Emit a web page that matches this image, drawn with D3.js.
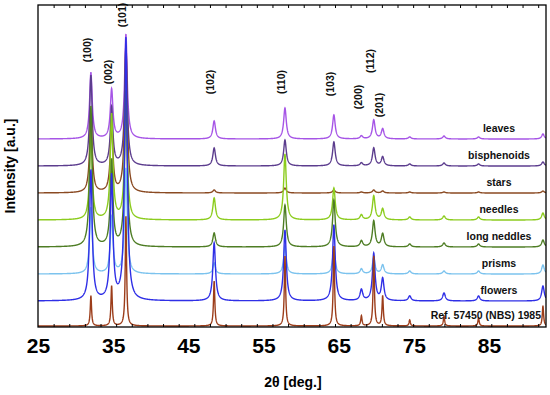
<!DOCTYPE html>
<meta charset="utf-8">
<script src="https://d3js.org/d3.v7.min.js"></script>
<style>
body { margin: 0; background: #fff; }
text { font-family: "Liberation Sans", Arial, sans-serif; font-weight: bold; }
</style>
<body>
<div id="chart"></div>
<script>

// peak positions (2theta, deg) and their Miller indices
const peakPos = [31.77, 34.42, 36.25, 47.54, 56.60, 62.86, 66.38, 67.96, 69.10, 72.56, 76.95, 81.37, 89.61];
const hkl = ["(100)", "(002)", "(101)", "(102)", "(110)", "(103)", "(200)", "(112)", "(201)"];

// samples, top to bottom
const samples = ["leaves", "bisphenoids", "stars", "needles", "long neddles", "prisms", "flowers", "Ref. 57450 (NBS) 1985"];
const offsets = [188, 161, 134, 107, 80, 53, 26, 1];
const colors = ["#a655e6", "#5c3d8e", "#8a4a22", "#8ccc1e", "#4e7d24", "#7cc3ee", "#2f2fe6", "#9c3d1a"];

// peak heights, same order as peakPos
const leaves      = [66, 49, 104, 18, 31, 24, 3, 19, 10, 2, 3, 2, 5];
const bisphenoids = [90, 58, 120, 18, 26, 24, 3, 18, 9, 2, 3, 2, 4];
const stars       = [78, 68, 145, 3, 5, 3, 1, 3, 2, 1, 1, 1, 2];
const needles     = [86, 105, 125, 22, 66, 32, 5, 24, 11, 3, 4, 3, 7];
const longNeddles = [140, 86, 155, 14, 42, 47, 6, 26, 13, 3, 4, 3, 7];
const prisms      = [66, 56, 105, 11, 28, 26, 5, 16, 9, 3, 3, 3, 9];
const flowers     = [130, 124, 262, 58, 71, 76, 11, 47, 22, 5, 8, 5, 15];
const reference   = [30, 40, 110, 45, 70, 80, 10, 70, 30, 6, 10, 8, 20];
const heights = [leaves, bisphenoids, stars, needles, longNeddles, prisms, flowers, reference];

const tickLabels = [25, 35, 45, 55, 65, 75, 85];

const W = 550, H = 395;
const plot = {left: 38, right: 546, top: 5, bottom: 327};

const svg = d3.select("#chart").append("svg")
    .attr("width", W)
    .attr("height", H);

const x = d3.scaleLinear().domain([25, 90]).range([plot.left, plot.right]);
const y = d3.scaleLinear().domain([0, 322]).range([plot.bottom, plot.top]);
// the original figure puts its axis numbers slightly tighter than the data
const xLab = d3.scaleLinear().domain([25, 85]).range([38, 489]);

svg.append("clipPath").attr("id", "clip")
  .append("rect")
    .attr("x", plot.left).attr("y", plot.top)
    .attr("width", plot.right - plot.left).attr("height", plot.bottom - plot.top);

// lorentzian profile built from the peak list of one sample
function profile(h, w) {
  const pts = [];
  for (let t = 25; t <= 90.001; t += 0.02) {
    let v = 0;
    peakPos.forEach((p, k) => {
      const d = (t - p) / w;
      v += h[k] / (1 + d * d);
    });
    pts.push([t, v]);
  }
  return pts;
}

const line = d3.line().x(d => x(d[0])).y(d => y(d[1]));

const traces = svg.append("g").attr("clip-path", "url(#clip)");
samples.forEach((s, i) => {
  const w = i === samples.length - 1 ? 0.1 : 0.2;
  traces.append("path")
    .datum(profile(heights[i], w).map(d => [d[0], d[1] + offsets[i]]))
    .attr("fill", "none")
    .attr("stroke", colors[i])
    .attr("stroke-width", 1.4)
    .attr("d", line);
});

// sample names
svg.selectAll(".name")
  .data(samples)
  .join("text")
    .attr("class", "name")
    .attr("x", (d, i) => i === samples.length - 1 ? 541 : 499)
    .attr("y", (d, i) => y(offsets[i]) - 7)
    .attr("text-anchor", (d, i) => i === samples.length - 1 ? "end" : "middle")
    .attr("font-size", "10.5px")
    .attr("fill", "#111")
    .text(d => d);

// hkl labels
const hklY = [50, 72, 15, 82, 82, 84, 97, 61, 105];
svg.selectAll(".hkl")
  .data(hkl)
  .join("text")
    .attr("class", "hkl")
    .attr("transform", (d, i) => `translate(${x(peakPos[i]) - 3.5},${hklY[i]}) rotate(-90)`)
    .attr("text-anchor", "middle")
    .attr("dy", "0.36em")
    .attr("font-size", "10.5px")
    .attr("fill", "#111")
    .text(d => d);

// frame and minor ticks
svg.append("rect")
    .attr("x", plot.left).attr("y", plot.top)
    .attr("width", plot.right - plot.left).attr("height", plot.bottom - plot.top)
    .attr("fill", "none").attr("stroke", "#000").attr("stroke-width", 1.3);

const minor = d3.range(27, 90, 2);
svg.append("g")
    .attr("transform", `translate(0,${plot.bottom})`)
    .call(d3.axisTop(x).tickValues(minor).tickSize(3).tickFormat(""))
    .call(g => g.select(".domain").remove());
svg.append("g")
    .attr("transform", `translate(0,${plot.top})`)
    .call(d3.axisBottom(x).tickValues(minor).tickSize(3).tickFormat(""))
    .call(g => g.select(".domain").remove());

// big axis numbers
svg.append("g")
    .attr("transform", `translate(0,${plot.bottom})`)
    .call(d3.axisBottom(xLab).tickValues(tickLabels).tickSize(0).tickPadding(11))
    .call(g => g.select(".domain").remove())
    .call(g => g.selectAll("text")
        .attr("font-size", "21px")
        .attr("fill", "#000")
        .style("font-family", "'Liberation Sans', Arial, sans-serif")
        .style("font-weight", "bold"));

svg.append("text")
    .attr("x", 293).attr("y", 387)
    .attr("text-anchor", "middle")
    .attr("font-size", "14px")
    .text("2θ [deg.]");

svg.append("text")
    .attr("transform", "translate(15,166) rotate(-90)")
    .attr("text-anchor", "middle")
    .attr("font-size", "14px")
    .text("Intensity [a.u.]");

</script>
</body>
